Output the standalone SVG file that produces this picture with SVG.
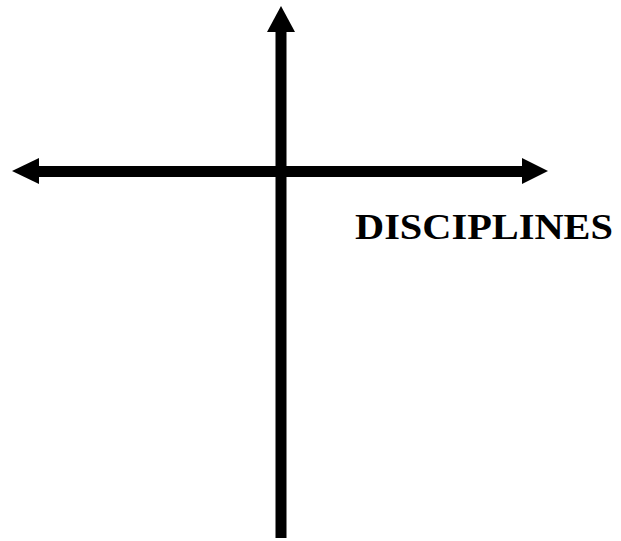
<svg xmlns="http://www.w3.org/2000/svg" width="621" height="541" viewBox="0 0 621 541">
<style>
.ax{stroke:#000;stroke-width:11;fill:none}
.hd{fill:#000}
.lbl{font-family:"Liberation Serif","Times New Roman",serif;font-weight:bold;font-size:36px;fill:#000}
</style>
<rect width="621" height="541" fill="#fff"/>
<g id="connectors">
<line class="ax" x1="281" y1="30" x2="281" y2="538"/>
<line class="ax" x1="37" y1="171.5" x2="524" y2="171.5"/>
<polygon class="hd" points="281,6 267,32 295,32"/>
<polygon class="hd" points="12,171 39,158 39,184"/>
<polygon class="hd" points="548,171 522,158 522,184"/>
</g>
<g id="label-disciplines">
<text class="lbl" x="355" y="239" textLength="258" lengthAdjust="spacingAndGlyphs">DISCIPLINES</text>
</g>
</svg>
